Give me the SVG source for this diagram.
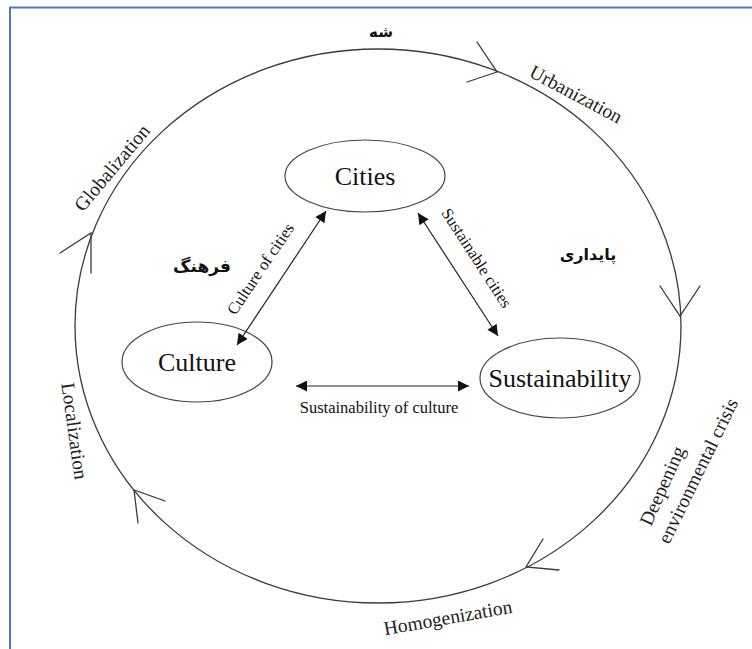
<svg xmlns="http://www.w3.org/2000/svg" width="752" height="649" viewBox="0 0 752 649">
  <style>
    .frame { fill: none; stroke: #4a7ebb; stroke-width: 2; }
    .ring { fill: none; stroke: #3a3a3a; stroke-width: 1.3; }
    .barb { fill: none; stroke: #3a3a3a; stroke-width: 1.3; stroke-linecap: round; }
    .node { fill: #ffffff; stroke: #444444; stroke-width: 1.2; }
    .link { stroke: #222222; stroke-width: 1.2; marker-start: url(#head); marker-end: url(#head); }
    .name { font-family: "Liberation Serif", "Times New Roman", serif; font-size: 26px; fill: #111111; text-anchor: middle; }
    .small { font-family: "Liberation Serif", "Times New Roman", serif; font-size: 16.5px; fill: #111111; text-anchor: middle; }
    .outer { font-family: "Liberation Serif", "Times New Roman", serif; font-size: 19.5px; fill: #222222; text-anchor: middle; }
    .fa { font-family: "DejaVu Sans", sans-serif; font-weight: bold; fill: #111111; text-anchor: middle; }
  </style>
  <defs>
    <marker id="head" viewBox="0 0 10 10" refX="10" refY="5" markerWidth="12" markerHeight="11" markerUnits="userSpaceOnUse" orient="auto-start-reverse">
      <path d="M0,0 L10,5 L0,10 Z" fill="#111111"/>
    </marker>
  </defs>

  <!-- page frame -->
  <path class="frame" d="M752,7.5 H10 V649"/>

  <!-- outer cycle -->
  <g id="cycle">
    <ellipse class="ring" cx="378" cy="326" rx="303" ry="277"/>
    <path class="barb" d="M477,42 L497,72 L467,82"/>
    <path class="barb" d="M660,286 L680,316 L700,286"/>
    <path class="barb" d="M559,570 L526,567 L543,539"/>
    <path class="barb" d="M138,523 L134,490 L165,501"/>
    <path class="barb" d="M60,253 L91,233 L91,273"/>
    <text class="outer" transform="translate(573,100) rotate(28)">Urbanization</text>
    <text class="outer" transform="translate(117,172) rotate(-50)">Globalization</text>
    <text class="outer" transform="translate(68,432) rotate(82)">Localization</text>
    <text class="outer" transform="translate(449,624) rotate(-10)">Homogenization</text>
    <text class="outer" style="text-anchor:start" transform="translate(651,527) rotate(-66)">Deepening</text>
    <text class="outer" style="text-anchor:start" transform="translate(669,545) rotate(-64)">environmental crisis</text>
    <text class="fa" font-size="15" x="381" y="37">شه</text>
    <text class="fa" font-size="17" x="202" y="272">فرهنگ</text>
    <text class="fa" font-size="16" x="588" y="260">پایداری</text>
  </g>

  <g id="cities">
    <ellipse class="node" cx="365" cy="176" rx="80" ry="36"/>
    <text class="name" x="365" y="185">Cities</text>
  </g>
  <g id="culture">
    <ellipse class="node" cx="197" cy="362" rx="75" ry="40"/>
    <text class="name" x="197" y="371">Culture</text>
  </g>
  <g id="sustainability">
    <ellipse class="node" cx="560" cy="378" rx="80" ry="40"/>
    <text class="name" x="560" y="387">Sustainability</text>
  </g>

  <!-- connectors between the three themes -->
  <g id="links">
    <line class="link" x1="237" y1="345" x2="326" y2="211"/>
    <line class="link" x1="418" y1="213" x2="498" y2="336"/>
    <line class="link" x1="296" y1="386" x2="469" y2="386"/>
    <text class="small" transform="translate(265,272) rotate(-56)">Culture of cities</text>
    <text class="small" transform="translate(472,261) rotate(57)">Sustainable cities</text>
    <text class="small" x="379" y="413">Sustainability of culture</text>
  </g>
</svg>
